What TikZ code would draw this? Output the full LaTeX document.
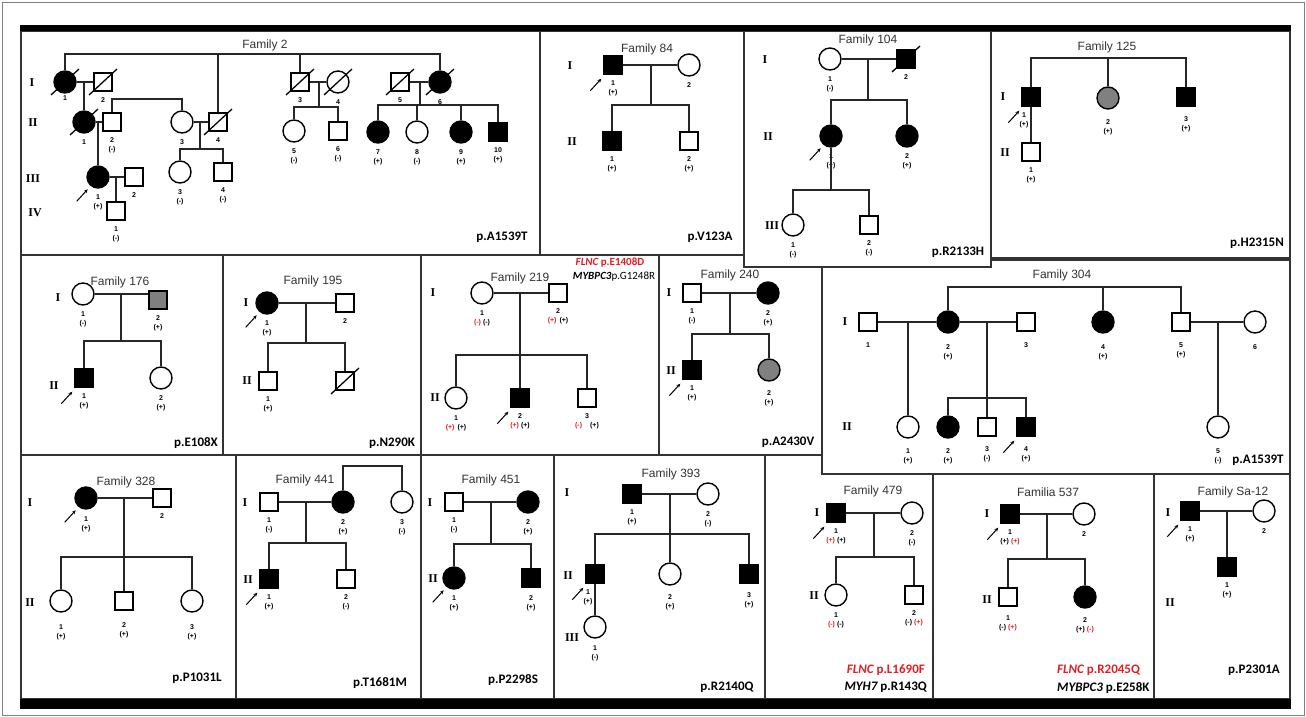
\documentclass[tikz,border=0pt]{standalone}
\usepackage{fontspec}
\setmainfont{Liberation Sans}
\newfontfamily\genfont{Liberation Serif}
\newfontfamily\mutfont{Carlito}
\usepackage{tikz}
\usetikzlibrary{arrows.meta, positioning, calc}
\definecolor{mutred}{RGB}{226, 30, 36}
\tikzset{
    male/.style={
        rectangle,
        draw=black,
        line width=1.4pt,
        fill=white,
        minimum size=18pt,
        inner sep=0pt
    },
    female/.style={
        circle,
        draw=black,
        line width=1.4pt,
        fill=white,
        minimum size=22pt,
        inner sep=0pt
    },
    affected/.style={fill=black},
    carrier/.style={fill=black!50},
    idnum/.style={font=\bfseries\fontsize{7}{8}\selectfont, inner sep=0.3pt},
    idstat/.style={font=\bfseries\fontsize{7}{8}\selectfont, inner sep=0.3pt},
    famtitle/.style={font=\fontsize{12}{14}\selectfont, text=black!80, inner sep=1pt},
    genlbl/.style={font=\genfont\bfseries\fontsize{12}{14}\selectfont, inner sep=0pt},
    mutlbl/.style={font=\mutfont\bfseries\fontsize{13}{15}\selectfont, inner sep=0pt},
    mutsmall/.style={font=\mutfont\bfseries\fontsize{11}{13}\selectfont, inner sep=0pt},
    pedline/.style={line width=1.5pt, draw=black!85},
    slashln/.style={line width=1.3pt, draw=black},
    probarrow/.style={
        -{Stealth[length=4pt, width=3.5pt]},
        line width=1pt
    },
    panel/.style={draw=black!80, line width=1.3pt, fill=white}
}
\newcommand{\pmember}[6][]{%
    \node[#3] (#2) at (#4) {};
    \node[idnum, below=5pt of #2, #1] (#2n) {#5};
    \node[idstat, below=3pt of #2n] (#2s) {#6};}
\newcommand{\pdead}[1]{\draw[slashln] ($(#1)+(-14,13)$) -- ($(#1)+(14,-13)$);}
\newcommand{\pproband}[1]{\draw[probarrow] ($(#1.south west)+(-13,16)$) -- ($(#1.south west)+(-2,4)$);}
\newcommand{\redst}[1]{\textcolor{mutred}{#1}}

\begin{document}
\begin{tikzpicture}[x=1pt, y=-1pt]
    \useasboundingbox (0,0) rectangle (1306,717);
    \fill[white] (0,0) rectangle (1306,717);
    \draw[black!50, line width=0.8pt] (2,2) rectangle (1304,715);

    % panels, bottom row first so the upper ones lie on top
    \foreach \xa/\ya/\xb/\yb in {21/455/236/699, 236/455/421/699, 421/455/554/699, 554/455/765/699,
        765/455/933/699, 933/474/1154/699, 1154/474/1290/699,
        21/254/223/455, 223/254/421/455, 421/255/659/455, 659/255/822/455,
        822/260/1290/474,
        21/31/540/255, 540/31/744/255, 991/31/1290/258, 744/31/991/267} {
        \draw[panel] (\xa,\ya) rectangle (\xb,\yb);
    }

    % Family 2
    \node[famtitle] (f2title) at (265,45) {Family 2};
    \node[genlbl] (f2g1) at (32,83) {I};
    \node[genlbl] (f2g2) at (33,123) {II};
    \node[genlbl] (f2g3) at (33,179) {III};
    \node[genlbl] (f2g4) at (35,213) {IV};
    \pmember[yshift=4pt]{f2I1}{female,affected}{65,82}{1}{}
    \pmember{f2I2}{male}{103,82}{2}{}
    \pmember{f2II1}{female,affected}{84,122}{1}{}
    \pmember{f2II2}{male}{112,122}{2}{(-)}
    \pmember{f2II3}{female}{182,122}{3}{}
    \pmember{f2II4}{male}{218,122}{4}{}
    \pmember{f2III1}{female,affected}{98,177}{1}{(+)}
    \pmember{f2III2}{male}{134,177}{2}{}
    \pmember{f2III3}{female}{180,172}{3}{(-)}
    \pmember{f2III4}{male}{223,172}{4}{(-)}
    \pmember{f2IV1}{male}{116,211}{1}{(-)}
    \pmember{f2I3}{male}{300,82}{3}{}
    \pmember{f2I4}{female}{338,82}{4}{}
    \pmember{f2II5}{female}{294,131}{5}{(-)}
    \pmember{f2II6}{male}{338,131}{6}{(-)}
    \pmember{f2I5}{male}{400,82}{5}{}
    \pmember{f2I6}{female,affected}{440,82}{6}{}
    \pmember{f2II7}{female,affected}{378,132}{7}{(+)}
    \pmember{f2II8}{female}{417,132}{8}{(-)}
    \pmember{f2II9}{female,affected}{461,132}{9}{(+)}
    \pmember{f2II10}{male,affected}{498,132}{10}{(+)}
    \foreach \d in {f2I1,f2I2,f2II1,f2II4,f2I3,f2I4,f2I5,f2I6} {\pdead{\d}}
    \pproband{f2III1}
    \coordinate (f2top) at (218,54);
    \draw[pedline] (f2I1.north) |- (f2top) -| (f2I6.north);
    \draw[pedline] (f2top) -- (f2II4.north);
    \draw[pedline] (f2I3.north) -- (f2I3.north |- f2top);
    \draw[pedline] (f2I1) -- (f2I2);
    \draw[pedline] ($(f2I1)!0.5!(f2I2)$) -- (f2II1.north);
    \draw[pedline] (f2II1) -- (f2II2);
    \draw[pedline] ($(f2II1)!0.5!(f2II2)$) -- (f2III1.north);
    \coordinate (f2s2) at (182,99);
    \draw[pedline] (f2II2.north) |- (f2s2) -- (f2II3.north);
    \draw[pedline] (f2II3) -- (f2II4);
    \coordinate (f2s3) at (200,149);
    \draw[pedline] ($(f2II3)!0.5!(f2II4)$) -- (f2s3);
    \draw[pedline] (f2III3.north) |- (f2s3) -| (f2III4.north);
    \draw[pedline] (f2III1) -- (f2III2);
    \draw[pedline] ($(f2III1)!0.5!(f2III2)$) -- (f2IV1.north);
    \draw[pedline] (f2I3) -- (f2I4);
    \coordinate (f2s4) at (319,107);
    \draw[pedline] ($(f2I3)!0.5!(f2I4)$) -- (f2s4);
    \draw[pedline] (f2II5.north) |- (f2s4) -| (f2II6.north);
    \draw[pedline] (f2I5) -- (f2I6);
    \coordinate (f2s5) at (420,105);
    \draw[pedline] ($(f2I5)!0.5!(f2I6)$) -- (f2s5);
    \draw[pedline] (f2II7.north) |- (f2s5) -| (f2II10.north);
    \foreach \c in {f2II8,f2II9} {\draw[pedline] (\c.north) -- (\c.north |- f2s5);}
    \node[mutlbl] (f2mut) at (502,237) {p.A1539T};

    % Family 84
    \node[famtitle] (f84title) at (647,49) {Family 84};
    \node[genlbl] (f84g1) at (570,66) {I};
    \node[genlbl] (f84g2) at (572,142) {II};
    \pmember{f84I1}{male,affected}{613,65}{1}{(+)}
    \pmember{f84I2}{female}{689,65}{2}{}
    \pmember{f84II1}{male,affected}{612,141}{1}{(+)}
    \pmember{f84II2}{male}{689,141}{2}{(+)}
    \pproband{f84I1}
    \draw[pedline] (f84I1) -- (f84I2);
    \coordinate (f84s) at (651,105);
    \draw[pedline] ($(f84I1)!0.5!(f84I2)$) -- (f84s);
    \draw[pedline] (f84II1.north) |- (f84s) -| (f84II2.north);
    \node[mutlbl] (f84mut) at (710,237) {p.V123A};

    % Family 104
    \node[famtitle] (f104title) at (868,40) {Family 104};
    \node[genlbl] (f104g1) at (765,60) {I};
    \node[genlbl] (f104g2) at (768,137) {II};
    \node[genlbl] (f104g3) at (772,226) {III};
    \pmember{f104I1}{female}{830,59}{1}{(-)}
    \pmember{f104I2}{male,affected}{906,59}{2}{}
    \pmember{f104II1}{female,affected}{831,136}{1}{(+)}
    \pmember{f104II2}{female,affected}{907,136}{2}{(+)}
    \pmember{f104III1}{female}{793,225}{1}{(-)}
    \pmember{f104III2}{male}{869,225}{2}{(-)}
    \pdead{f104I2}
    \pproband{f104II1}
    \draw[pedline] (f104I1) -- (f104I2);
    \coordinate (f104s1) at (868,100);
    \draw[pedline] ($(f104I1)!0.5!(f104I2)$) -- (f104s1);
    \draw[pedline] (f104II1.north) |- (f104s1) -| (f104II2.north);
    \coordinate (f104s2) at (831,190);
    \draw[pedline] (f104II1.south) -- (f104s2);
    \draw[pedline] (f104III1.north) |- (f104s2) -| (f104III2.north);
    \node[mutlbl] (f104mut) at (958,252) {p.R2133H};

    % Family 125
    \node[famtitle] (f125title) at (1107,47) {Family 125};
    \node[genlbl] (f125g1) at (1003,97) {I};
    \node[genlbl] (f125g2) at (1005,153) {II};
    \pmember[xshift=-7pt]{f125I1}{male,affected}{1031,97}{1}{(+)}
    \pmember[yshift=-4pt]{f125I2}{female,carrier}{1108,98}{2}{(+)}
    \pmember[yshift=-4pt]{f125I3}{male,affected}{1186,97}{3}{(+)}
    \pmember{f125II1}{male}{1031,152}{1}{(+)}
    \pproband{f125I1}
    \coordinate (f125s) at (1108,58);
    \draw[pedline] (f125I1.north) |- (f125s) -| (f125I3.north);
    \draw[pedline] (f125s) -- (f125I2.north);
    \draw[pedline] (f125I1.south) -- (f125II1.north);
    \node[mutlbl, anchor=east] (f125mut) at (1284,243) {p.H2315N};

    % Family 176
    \node[famtitle] (f176title) at (120,282) {Family 176};
    \node[genlbl] (f176g1) at (58,298) {I};
    \node[genlbl] (f176g2) at (54,386) {II};
    \pmember{f176I1}{female}{83,294}{1}{(-)}
    \pmember{f176I2}{male,carrier}{158,300}{2}{(+)}
    \pmember{f176II1}{male,affected}{84,378}{1}{(+)}
    \pmember{f176II2}{female}{161,378}{2}{(+)}
    \pproband{f176II1}
    \draw[pedline] (f176I1.east) -- (f176I1.east -| f176I2.west);
    \coordinate (f176s) at (121,341);
    \draw[pedline] (f176s |- f176I1.east) -- (f176s);
    \draw[pedline] (f176II1.north) |- (f176s) -| (f176II2.north);
    \node[mutlbl] (f176mut) at (196,443) {p.E108X};

    % Family 195
    \node[famtitle] (f195title) at (313,281) {Family 195};
    \node[genlbl] (f195g1) at (246,303) {I};
    \node[genlbl] (f195g2) at (247,381) {II};
    \pmember{f195I1}{female,affected}{267,303}{1}{(+)}
    \pmember{f195I2}{male}{345,303}{2}{}
    \pmember{f195II1}{male}{268,381}{1}{(+)}
    \pmember{f195II2}{male}{345,381}{}{}
    \pdead{f195II2}
    \pproband{f195I1}
    \draw[pedline] (f195I1) -- (f195I2);
    \coordinate (f195s) at (306,343);
    \draw[pedline] ($(f195I1)!0.5!(f195I2)$) -- (f195s);
    \draw[pedline] (f195II1.north) |- (f195s) -| (f195II2.north);
    \node[mutlbl] (f195mut) at (392,443) {p.N290K};

    % Family 219
    \node[famtitle] (f219title) at (520,278) {Family 219};
    \node[mutsmall, text=mutred] (f219mut1) at (610,263) {{\itshape FLNC} p.E1408D};
    \node[mutsmall] (f219mut2) at (614,277) {{\itshape MYBPC3}\mdseries p.G1248R};
    \node[genlbl] (f219g1) at (433,293) {I};
    \node[genlbl] (f219g2) at (435,398) {II};
    \pmember{f219I1}{female}{482,293}{1}{\redst{(-)}\hspace{2pt}(-)}
    \pmember{f219I2}{male}{558,293}{2}{\redst{(+)}\hspace{3pt}(+)}
    \pmember{f219II1}{female}{456,398}{1}{\redst{(+)}\hspace{3pt}(+)}
    \pmember{f219II2}{male,affected}{520,398}{2}{\redst{(+)}\hspace{2pt}(+)}
    \pmember{f219II3}{male}{587,398}{3}{\redst{(-)}\hspace{8pt}(+)}
    \pproband{f219II2}
    \draw[pedline] (f219I1) -- (f219I2);
    \coordinate (f219s) at (520,355);
    \draw[pedline] ($(f219I1)!0.5!(f219I2)$) -- (f219II2.north);
    \draw[pedline] (f219II1.north) |- (f219s) -| (f219II3.north);

    % Family 240
    \node[famtitle] (f240title) at (730,275) {Family 240};
    \node[genlbl] (f240g1) at (669,293) {I};
    \node[genlbl] (f240g2) at (671,371) {II};
    \pmember{f240I1}{male}{692,293}{1}{(-)}
    \pmember{f240I2}{female,affected}{768,293}{2}{(+)}
    \pmember{f240II1}{male,affected}{692,370}{1}{(+)}
    \pmember[yshift=-3pt]{f240II2}{female,carrier}{769,370}{2}{(+)}
    \pproband{f240II1}
    \draw[pedline] (f240I1) -- (f240I2);
    \coordinate (f240s) at (730,334);
    \draw[pedline] ($(f240I1)!0.5!(f240I2)$) -- (f240s);
    \draw[pedline] (f240II1.north) |- (f240s) -| (f240II2.north);
    \node[mutlbl] (f240mut) at (788,442) {p.A2430V};

    % Family 304
    \node[famtitle] (f304title) at (1062,275) {Family 304};
    \node[genlbl] (f304g1) at (845,322) {I};
    \node[genlbl] (f304g2) at (847,427) {II};
    \pmember[yshift=-5pt]{f304I1}{male}{868,322}{1}{}
    \pmember[yshift=-5pt]{f304I2}{female,affected}{948,322}{2}{(+)}
    \pmember[yshift=-5pt]{f304I3}{male}{1026,322}{3}{}
    \pmember[yshift=-5pt]{f304I4}{female,affected}{1103,322}{4}{(+)}
    \pmember[yshift=-5pt]{f304I5}{male}{1181,322}{5}{(+)}
    \pmember[yshift=-5pt]{f304I6}{female}{1255,322}{6}{}
    \pmember[yshift=-4pt]{f304II1}{female}{908,427}{1}{(+)}
    \pmember[yshift=-4pt]{f304II2}{female,affected}{948,427}{2}{(+)}
    \pmember[yshift=-4pt]{f304II3}{male}{987,427}{3}{(-)}
    \pmember[yshift=-4pt]{f304II4}{male,affected}{1026,427}{4}{(+)}
    \pmember[yshift=-4pt]{f304II5}{female}{1218,427}{5}{(-)}
    \pproband{f304II4}
    \coordinate (f304top) at (1103,287);
    \draw[pedline] (f304I2.north) |- (f304top) -| (f304I5.north);
    \draw[pedline] (f304top) -- (f304I4.north);
    \draw[pedline] (f304I1) -- (f304I2);
    \draw[pedline] (f304I2) -- (f304I3);
    \draw[pedline] (f304I5) -- (f304I6);
    \draw[pedline] ($(f304I1)!0.5!(f304I2)$) -- (f304II1.north);
    \coordinate (f304s) at (987,398);
    \draw[pedline] ($(f304I2)!0.5!(f304I3)$) -- (f304II3.north);
    \draw[pedline] (f304II2.north) |- (f304s) -| (f304II4.north);
    \draw[pedline] ($(f304I5)!0.5!(f304I6)$) -- (f304II5.north);
    \node[mutlbl] (f304mut) at (1258,460) {p.A1539T};

    % Family 328
    \node[famtitle] (f328title) at (126,482) {Family 328};
    \node[genlbl] (f328g1) at (30,503) {I};
    \node[genlbl] (f328g2) at (30,603) {II};
    \pmember[yshift=-1pt]{f328I1}{female,affected}{86,498}{1}{(+)}
    \pmember{f328I2}{male}{162,498}{2}{}
    \pmember[yshift=-6pt]{f328II1}{female}{61,601}{1}{(+)}
    \pmember[yshift=-6pt]{f328II2}{male}{124,601}{2}{(+)}
    \pmember[yshift=-6pt]{f328II3}{female}{192,601}{3}{(+)}
    \pproband{f328I1}
    \draw[pedline] (f328I1) -- (f328I2);
    \coordinate (f328s) at (124,557);
    \draw[pedline] ($(f328I1)!0.5!(f328I2)$) -- (f328II2.north);
    \draw[pedline] (f328II1.north) |- (f328s) -| (f328II3.north);
    \node[mutlbl] (f328mut) at (197,678) {p.P1031L};

    % Family 441
    \node[famtitle] (f441title) at (305,480) {Family 441};
    \node[genlbl] (f441g1) at (245,503) {I};
    \node[genlbl] (f441g2) at (248,580) {II};
    \pmember{f441I1}{male}{269,502}{1}{(-)}
    \pmember{f441I2}{female,affected}{343,502}{2}{(+)}
    \pmember{f441I3}{female}{402,502}{3}{(-)}
    \pmember{f441II1}{male,affected}{269,579}{1}{(+)}
    \pmember{f441II2}{male}{346,579}{2}{(-)}
    \pproband{f441II1}
    \coordinate (f441top) at (402,466);
    \draw[pedline] (f441I2.north) |- (f441top) -- (f441I3.north);
    \draw[pedline] (f441I1) -- (f441I2);
    \coordinate (f441s) at (306,543);
    \draw[pedline] ($(f441I1)!0.5!(f441I2)$) -- (f441s);
    \draw[pedline] (f441II1.north) |- (f441s) -| (f441II2.north);
    \node[mutlbl] (f441mut) at (380,683) {p.T1681M};

    % Family 451
    \node[famtitle] (f451title) at (491,480) {Family 451};
    \node[genlbl] (f451g1) at (430,503) {I};
    \node[genlbl] (f451g2) at (433,579) {II};
    \pmember{f451I1}{male}{454,502}{1}{(-)}
    \pmember{f451I2}{female,affected}{528,502}{2}{(+)}
    \pmember{f451II1}{female,affected}{454,578}{1}{(+)}
    \pmember[yshift=-2pt]{f451II2}{male,affected}{531,578}{2}{(+)}
    \pproband{f451II1}
    \draw[pedline] (f451I1) -- (f451I2);
    \coordinate (f451s) at (491,544);
    \draw[pedline] ($(f451I1)!0.5!(f451I2)$) -- (f451s);
    \draw[pedline] (f451II1.north) |- (f451s) -| (f451II2.north);
    \node[mutlbl] (f451mut) at (513,680) {p.P2298S};

    % Family 393
    \node[famtitle] (f393title) at (671,474) {Family 393};
    \node[genlbl] (f393g1) at (567,493) {I};
    \node[genlbl] (f393g2) at (568,576) {II};
    \node[genlbl] (f393g3) at (572,638) {III};
    \pmember{f393I1}{male,affected}{632,494}{1}{(+)}
    \pmember{f393I2}{female}{708,494}{2}{(-)}
    \pmember[xshift=-7pt]{f393II1}{male,affected}{595,574}{1}{(+)}
    \pmember[yshift=-3pt]{f393II2}{female}{670,574}{2}{(+)}
    \pmember[yshift=-3pt]{f393II3}{male,affected}{749,574}{3}{(+)}
    \pmember[yshift=-1pt]{f393III1}{female}{595,627}{1}{(-)}
    \pproband{f393II1}
    \draw[pedline] (f393I1) -- (f393I2);
    \coordinate (f393s) at (670,534);
    \draw[pedline] ($(f393I1)!0.5!(f393I2)$) -- (f393II2.north);
    \draw[pedline] (f393II1.north) |- (f393s) -| (f393II3.north);
    \draw[pedline] (f393II1.south) -- (f393III1.north);
    \node[mutlbl] (f393mut) at (727,687) {p.R2140Q};

    % Family 479
    \node[famtitle] (f479title) at (873,491) {Family 479};
    \node[genlbl] (f479g1) at (817,513) {I};
    \node[genlbl] (f479g2) at (814,596) {II};
    \pmember{f479I1}{male,affected}{836,513}{1}{\redst{(+)}\hspace{2pt}(+)}
    \pmember{f479I2}{female}{912,513}{2}{(-)}
    \pmember{f479II1}{female}{836,595}{1}{\redst{(-)}\hspace{2pt}(-)}
    \pmember{f479II2}{male}{914,595}{2}{(-)\hspace{2pt}\redst{(+)}}
    \pproband{f479I1}
    \draw[pedline] (f479I1) -- (f479I2);
    \coordinate (f479s) at (874,557);
    \draw[pedline] ($(f479I1)!0.5!(f479I2)$) -- (f479s);
    \draw[pedline] (f479II1.north) |- (f479s) -| (f479II2.north);
    \node[mutlbl, text=mutred, anchor=east] (f479mut1) at (925,670) {{\itshape FLNC} p.L1690F};
    \node[mutlbl, anchor=east] (f479mut2) at (927,687) {{\itshape MYH7} p.R143Q};

    % Familia 537
    \node[famtitle] (f537title) at (1048,492) {Familia 537};
    \node[genlbl] (f537g1) at (987,514) {I};
    \node[genlbl] (f537g2) at (987,600) {II};
    \pmember{f537I1}{male,affected}{1010,514}{1}{(+)\hspace{2pt}\redst{(+)}}
    \pmember{f537I2}{female}{1084,514}{2}{}
    \pmember[yshift=-3pt]{f537II1}{male}{1008,597}{1}{(-)\hspace{2pt}\redst{(+)}}
    \pmember[yshift=-3pt]{f537II2}{female,affected}{1085,597}{2}{(+)\hspace{2pt}\redst{(-)}}
    \pproband{f537I1}
    \draw[pedline] (f537I1) -- (f537I2);
    \coordinate (f537s) at (1047,559);
    \draw[pedline] ($(f537I1)!0.5!(f537I2)$) -- (f537s);
    \draw[pedline] (f537II1.north) |- (f537s) -| (f537II2.north);
    \node[mutlbl, text=mutred, anchor=west] (f537mut1) at (1057,670) {{\itshape FLNC} p.R2045Q};
    \node[mutlbl, anchor=west] (f537mut2) at (1057,688) {{\itshape MYBPC3} p.E258K};

    % Family Sa-12
    \node[famtitle] (fsatitle) at (1233,492) {Family Sa-12};
    \node[genlbl] (fsag1) at (1168,513) {I};
    \node[genlbl] (fsag2) at (1170,603) {II};
    \pmember{fsaI1}{male,affected}{1190,511}{1}{(+)}
    \pmember{fsaI2}{female}{1264,511}{2}{}
    \pmember{fsaII1}{male,affected}{1227,567}{1}{(+)}
    \pproband{fsaI1}
    \draw[pedline] (fsaI1) -- (fsaI2);
    \draw[pedline] ($(fsaI1)!0.5!(fsaI2)$) -- (fsaII1.north);
    \node[mutlbl] (fsamut) at (1254,670) {p.P2301A};

    % heavy rules top and bottom
    \fill[black] (20,25) rectangle (1291,31);
    \fill[black] (20,699) rectangle (1291,709);
\end{tikzpicture}
\end{document}
